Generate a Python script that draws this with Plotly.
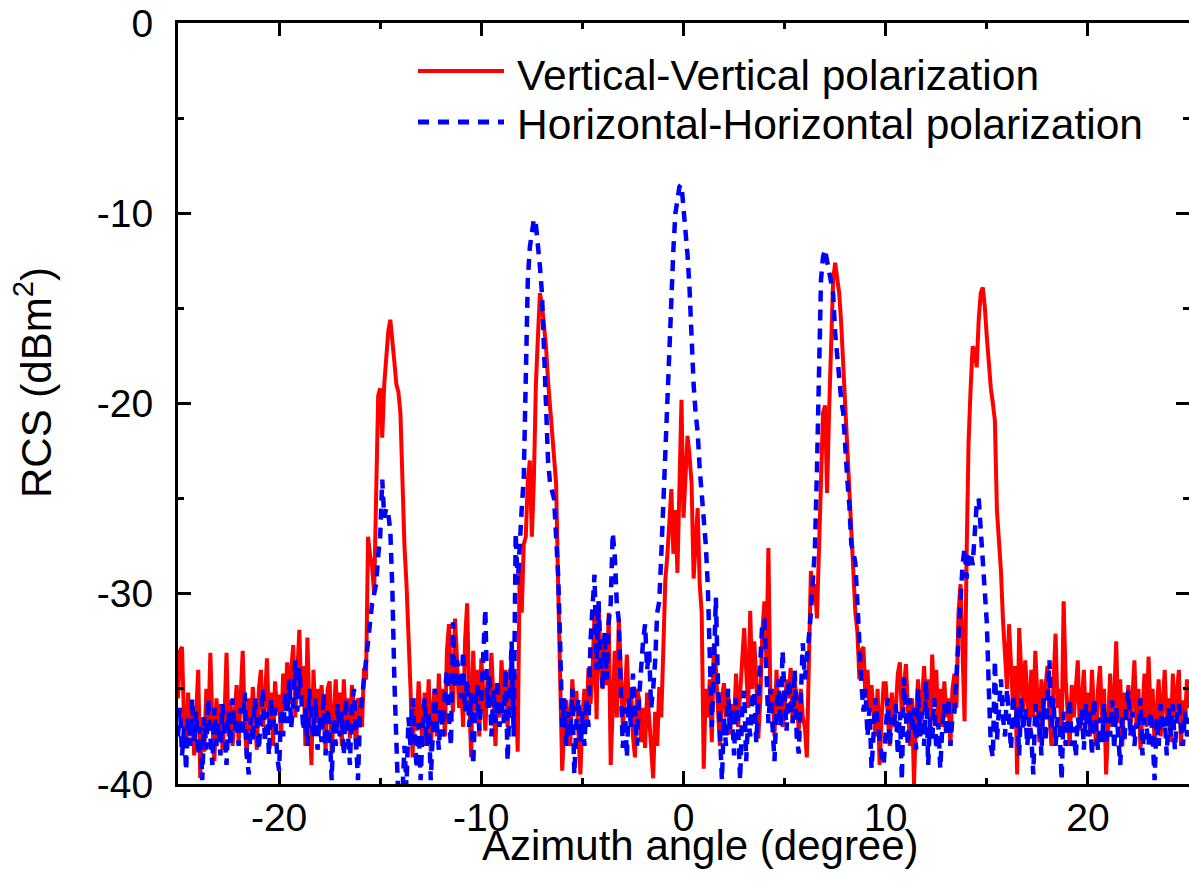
import numpy as np
import plotly.graph_objects as go

# Azimuth sampling grid (degree), 0.1 deg step from -25 to 25
angle_deg = np.round(np.arange(-250, 251) / 10.0, 1)

# Vertical-Vertical polarization RCS (dBm^2)
vv_rcs = [
    -35.5, -33.0, -32.8, -36.8, -38.0, -35.2, -37.5, -36.0, -38.5, -35.8,   # -25
    -34.0, -39.7, -36.5, -38.3, -35.0, -37.2, -33.1, -36.8, -38.8, -35.5,   # -24
    -37.0, -35.8, -38.2, -36.5, -33.1, -37.5, -35.6, -38.0, -36.2, -34.8,   # -23
    -37.8, -35.2, -33.0, -36.8, -38.6, -35.5, -37.2, -34.9, -36.5, -38.2,   # -22
    -35.0, -34.0, -37.0, -35.6, -33.4, -36.9, -35.2, -38.0, -34.6, -36.2,   # -21
    -35.3, -37.5, -34.2, -36.0, -33.6, -35.8, -34.0, -32.7, -36.5, -34.4,   # -20
    -31.9, -35.5, -33.8, -38.0, -32.3, -36.2, -39.0, -34.0, -36.8, -35.0,   # -19
    -37.2, -34.8, -36.5, -38.2, -35.0, -34.6, -38.4, -36.0, -34.5, -37.0,   # -18
    -35.2, -38.0, -34.5, -36.8, -35.5, -37.6, -34.8, -36.0, -38.2, -35.5,   # -17
    -35.8, -37.0, -33.9, -34.5, -27.0, -28.0, -28.6, -30.0, -25.0, -19.6,   # -16
    -19.2, -21.8, -19.0, -17.5, -16.2, -15.6, -16.5, -17.8, -19.0, -19.4,   # -15
    -20.5, -24.9, -27.5, -29.5, -32.1, -35.0, -38.6, -35.5, -37.2, -34.6,   # -14
    -36.5, -38.0, -35.2, -36.8, -34.5, -38.3, -36.0, -35.0, -37.5, -34.2,   # -13
    -36.8, -35.0, -37.5, -33.0, -31.6, -34.8, -36.2, -31.3, -33.5, -36.0,   # -12
    -34.5, -37.0, -32.4, -30.5, -35.5, -38.6, -33.0, -36.2, -34.0, -37.5,   # -11
    -33.4, -35.8, -37.2, -34.5, -36.0, -33.1, -35.5, -38.0, -34.8, -36.5,   # -10
    -33.5, -35.6, -34.0, -37.0, -35.2, -33.0, -36.5, -34.2, -38.3, -28.4,   # -9
    -31.0, -27.4, -27.0, -24.0, -23.0, -27.0, -24.0, -19.0, -16.5, -14.2,   # -8
    -14.8, -15.8, -17.0, -18.8, -20.3, -21.4, -22.8, -24.2, -29.5, -34.0,   # -7
    -39.3, -37.0, -35.6, -36.8, -38.0, -34.5, -36.2, -35.1, -37.5, -39.5,   # -6
    -36.5, -35.0, -37.0, -33.9, -35.8, -34.2, -31.0, -36.6, -30.4, -33.5,   # -5
    -35.0, -32.1, -34.8, -31.0, -39.0, -35.5, -33.0, -36.5, -31.3, -34.0,   # -4
    -37.0, -35.5, -33.2, -36.0, -34.9, -37.5, -38.6, -35.0, -35.5, -37.8,   # -3
    -36.0, -38.1, -35.2, -36.5, -37.8, -39.7, -36.2, -38.0, -34.9, -36.5,   # -2
    -33.0, -29.3, -28.0, -26.5, -24.5, -27.9, -25.6, -28.9, -23.0, -19.8,   # -1
    -26.0, -23.5, -21.7, -22.8, -24.2, -29.2, -27.0, -25.5, -29.5, -31.0,   # 0
    -39.2, -35.0, -36.5, -34.5, -37.8, -32.6, -33.9, -36.0, -38.0, -35.5,   # 1
    -34.7, -36.5, -35.0, -37.4, -35.8, -36.8, -34.2, -37.0, -35.5, -33.5,   # 2
    -31.8, -34.0, -36.0, -30.9, -35.0, -32.5, -34.5, -37.6, -35.5, -32.0,   # 3
    -30.4, -33.5, -27.6, -36.0, -35.0, -37.5, -34.0, -36.5, -35.2, -37.0,   # 4
    -36.2, -34.5, -35.5, -33.9, -36.8, -34.6, -35.6, -37.2, -35.0, -36.5,   # 5
    -37.0, -38.6, -33.0, -28.8, -30.0, -29.5, -31.3, -27.0, -23.0, -20.5,   # 6
    -20.1, -24.7, -20.5, -17.2, -13.5, -12.6, -13.4, -14.2, -15.8, -18.0,   # 7
    -19.8, -22.6, -25.0, -27.2, -29.0, -31.0, -32.0, -34.5, -33.0, -32.8,   # 8
    -35.5, -34.0, -36.2, -34.8, -36.2, -37.5, -35.0, -39.0, -36.5, -34.7,   # 9
    -34.7, -36.5, -38.0, -35.2, -37.0, -36.0, -34.2, -33.6, -36.5, -35.0,   # 10
    -33.7, -36.0, -38.0, -35.5, -40.0, -36.5, -34.5, -37.2, -35.8, -33.8,   # 11
    -36.2, -34.5, -37.5, -33.2, -35.8, -34.0, -36.8, -35.0, -37.0, -34.6,   # 12
    -36.5, -35.5, -38.0, -35.0, -34.2, -36.0, -31.0, -29.5, -33.0, -36.7,   # 13
    -28.0, -22.0, -19.2, -17.0, -17.2, -18.1, -15.6, -14.2, -13.9, -14.9,   # 14
    -16.5, -18.0, -19.2, -20.0, -20.9, -25.6, -27.0, -28.8, -31.4, -33.5,   # 15
    -35.0, -31.6, -34.5, -36.0, -33.8, -39.5, -31.8, -34.0, -36.2, -33.5,   # 16
    -35.5, -37.0, -34.0, -36.5, -33.0, -35.2, -37.8, -34.5, -36.0, -35.0,   # 17
    -33.8, -36.5, -38.0, -34.6, -32.1, -36.0, -35.0, -37.5, -30.4, -34.5,   # 18
    -36.2, -38.0, -34.8, -36.5, -35.0, -33.5, -37.2, -35.6, -34.0, -36.8,   # 19
    -35.2, -37.5, -34.0, -36.2, -38.0, -35.0, -33.8, -36.5, -35.0, -39.5,   # 20
    -36.0, -34.2, -37.0, -35.5, -32.5, -36.8, -34.5, -38.0, -35.2, -36.6,   # 21
    -34.8, -37.2, -35.5, -33.5, -36.8, -35.0, -38.2, -36.0, -34.2, -37.0,   # 22
    -33.3, -36.5, -35.0, -38.0, -36.2, -34.5, -37.5, -35.8, -34.0, -36.8,   # 23
    -35.5, -37.8, -34.2, -36.5, -35.0, -34.0, -38.0, -35.6, -36.8, -34.5,   # 24
    -36.0,                                                                  # 25
]

# Horizontal-Horizontal polarization RCS (dBm^2)
hh_rcs = [
    -37.5, -36.0, -38.5, -37.0, -39.3, -36.5, -38.0, -35.5, -37.8, -36.2,   # -25
    -38.5, -37.0, -39.8, -36.5, -38.2, -35.5, -37.5, -39.0, -36.0, -38.0,   # -24
    -36.8, -38.5, -35.8, -37.5, -39.0, -36.2, -38.0, -35.5, -37.2, -36.5,   # -23
    -38.0, -36.0, -37.5, -35.2, -38.5, -39.5, -36.5, -37.8, -35.5, -36.8,   # -22
    -38.2, -36.5, -35.0, -37.8, -36.2, -38.5, -35.5, -37.0, -36.0, -38.5,   # -21
    -39.3, -36.0, -37.5, -35.2, -36.8, -34.5, -37.0, -35.8, -33.5, -36.2,   # -20
    -33.9, -35.5, -37.2, -36.0, -38.0, -35.0, -36.8, -37.5, -35.5, -38.2,   # -19
    -36.5, -37.8, -35.2, -38.5, -36.0, -37.2, -39.8, -36.5, -38.0, -35.8,   # -18
    -37.5, -36.2, -38.5, -35.5, -37.0, -39.0, -36.0, -35.0, -37.5, -39.8,   # -17
    -36.5, -35.5, -34.0, -33.0, -32.0, -31.3, -30.5, -30.0, -29.5, -28.0,   # -16
    -27.0, -24.0, -26.0, -25.5, -25.8, -26.7, -29.7, -34.5, -39.0, -41.0,   # -15
    -41.5, -40.5, -38.0, -40.2, -36.5, -38.0, -35.5, -37.2, -39.2, -36.8,   # -14
    -39.8, -37.0, -35.5, -38.0, -36.2, -39.8, -37.5, -35.0, -36.8, -38.2,   # -13
    -36.0, -37.5, -35.2, -34.0, -36.5, -38.0, -31.5, -35.0, -33.5, -34.2,   # -12
    -35.5, -33.0, -36.2, -34.5, -37.0, -35.2, -39.0, -36.0, -34.8, -37.2,   # -11
    -35.5, -33.0, -30.8, -36.0, -34.2, -37.5, -35.0, -36.8, -34.5, -37.0,   # -10
    -35.5, -36.8, -34.0, -38.8, -35.2, -32.5, -37.5, -26.8, -29.5, -27.0,   # -9
    -25.5, -23.9, -18.0, -13.5, -11.8, -10.8, -10.3, -10.6, -11.5, -12.8,   # -8
    -14.2, -17.5, -21.0, -23.0, -24.2, -24.6, -25.0, -27.0, -29.0, -32.6,   # -7
    -37.0, -35.5, -38.0, -36.2, -37.5, -35.0, -39.5, -36.8, -35.5, -37.8,   # -6
    -36.2, -38.0, -35.5, -37.0, -32.5, -30.7, -29.0, -34.0, -30.4, -33.5,   # -5
    -35.0, -32.0, -34.5, -31.5, -30.5, -26.8, -28.0, -30.5, -31.4, -35.0,   # -4
    -38.1, -36.0, -38.6, -35.5, -37.0, -34.2, -36.5, -38.0, -35.5, -33.8,   # -3
    -32.5, -31.6, -34.0, -33.0, -36.0, -35.0, -33.5, -31.0, -30.4, -28.0,   # -2
    -25.1, -22.5, -20.2, -17.5, -14.0, -11.9, -10.0, -9.2, -8.6, -8.5,      # -1
    -9.7, -10.8, -12.2, -14.0, -16.8, -19.0, -20.5, -21.5, -23.4, -24.8,    # 0
    -25.6, -27.4, -29.5, -33.0, -37.0, -34.0, -30.2, -34.5, -37.5, -39.8,   # 1
    -36.5, -38.0, -35.0, -37.2, -36.0, -38.5, -35.5, -37.0, -39.8, -36.2,   # 2
    -35.1, -38.8, -36.5, -37.5, -35.5, -35.1, -37.8, -36.0, -33.5, -31.4,   # 3
    -31.4, -34.5, -36.8, -35.0, -37.5, -38.8, -36.0, -34.5, -37.0, -33.0,   # 4
    -35.5, -37.2, -34.5, -35.5, -36.8, -34.0, -37.5, -38.4, -35.2, -32.6,   # 5
    -34.5, -33.0, -32.3, -31.0, -29.5, -27.6, -23.5, -18.5, -13.5, -12.3,   # 6
    -11.9, -12.5, -13.0, -13.5, -14.2, -16.3, -17.5, -19.2, -19.8, -20.5,   # 7
    -22.6, -24.0, -25.3, -27.4, -27.8, -28.4, -30.5, -33.0, -34.7, -36.2,   # 8
    -35.0, -37.5, -36.0, -39.2, -37.0, -35.5, -36.8, -37.9, -38.5, -39.0,   # 9
    -37.2, -35.5, -38.0, -36.5, -37.0, -35.8, -38.5, -36.2, -39.8, -34.4,   # 10
    -36.5, -38.0, -35.5, -37.2, -36.0, -38.2, -35.0, -37.5, -36.2, -38.0,   # 11
    -34.6, -39.0, -36.5, -37.8, -35.5, -38.2, -36.8, -39.2, -37.0, -35.8,   # 12
    -37.5, -35.5, -38.0, -36.5, -36.2, -34.0, -31.8, -30.5, -28.5, -27.6,   # 13
    -29.2, -28.0, -27.8, -28.5, -27.2, -25.3, -25.0, -26.7, -27.6, -29.7,   # 14
    -31.5, -35.0, -38.0, -38.6, -33.5, -37.7, -35.5, -34.5, -36.5, -37.5,   # 15
    -35.0, -36.8, -38.2, -35.3, -37.0, -36.0, -38.5, -35.5, -37.2, -36.0,   # 16
    -38.0, -36.5, -37.5, -39.5, -35.8, -37.0, -36.2, -38.5, -35.5, -37.8,   # 17
    -36.0, -33.5, -37.2, -35.5, -38.0, -36.5, -37.0, -39.8, -36.2, -38.0,   # 18
    -36.8, -35.5, -38.0, -37.0, -38.6, -36.5, -37.2, -36.0, -38.2, -35.8,   # 19
    -37.5, -36.2, -38.5, -35.5, -37.0, -38.2, -36.5, -37.8, -35.8, -38.0,   # 20
    -36.5, -37.5, -35.6, -38.2, -36.0, -37.2, -39.0, -36.5, -37.8, -36.0,   # 21
    -35.1, -37.5, -36.2, -38.0, -36.8, -37.2, -35.5, -38.5, -36.5, -37.0,   # 22
    -38.0, -36.2, -37.5, -39.8, -36.5, -38.0, -35.8, -37.2, -36.5, -38.5,   # 23
    -36.0, -37.5, -35.8, -38.2, -36.5, -35.8, -37.0, -38.0, -36.2, -37.5,   # 24
    -36.5,                                                                  # 25
]

x_tick_vals = [-20, -10, 0, 10, 20]
x_tick_text = ["-20", "-10", "0", "10", "20"]
x_minor_vals = [-25, -15, -5, 5, 15, 25]
y_tick_vals = [-40, -30, -20, -10, 0]
y_tick_text = ["-40", "-30", "-20", "-10", "0"]
y_minor_vals = [-35, -25, -15, -5]

series_names = ["Vertical-Vertical polarization", "Horizontal-Horizontal polarization"]
x_title = "Azimuth angle (degree)"
y_title = "RCS (dBm<sup>2</sup>)"

FONT = "Liberation Sans, Arial, sans-serif"
W, H = 1189, 886
ML, MR, MT, MB = 178, 0, 23, 102

fig = go.Figure()
fig.add_trace(go.Scatter(x=angle_deg, y=vv_rcs, mode="lines", name=series_names[0],
                         line=dict(color="#ff0000", width=4), showlegend=False))
fig.add_trace(go.Scatter(x=angle_deg, y=hh_rcs, mode="lines", name=series_names[1],
                         line=dict(color="#0000ff", width=4.5, dash="11px,8px"), showlegend=False))
fig.add_trace(go.Scatter(x=[], y=[], yaxis="y2", showlegend=False, hoverinfo="skip"))

axis_common = dict(showgrid=False, zeroline=False, ticks="inside", ticklen=13, tickwidth=3,
                   tickcolor="black", linecolor="black", linewidth=3)

fig.update_layout(
    width=W, height=H,
    margin=dict(l=ML, r=MR, t=MT, b=MB, autoexpand=False),
    paper_bgcolor="white", plot_bgcolor="white",
    font=dict(family=FONT, color="black", size=39),
    xaxis=dict(range=[-25, 25], tickmode="array", tickvals=x_tick_vals, ticktext=x_tick_text,
               showline=True, mirror="ticks", tickfont=dict(size=39), ticklabelstandoff=-3,
               minor=dict(tickvals=x_minor_vals, ticks="inside", ticklen=6, tickwidth=3, tickcolor="black"),
               automargin=False, **axis_common),
    yaxis=dict(range=[-40, 0], tickmode="array", tickvals=y_tick_vals, ticktext=y_tick_text,
               showline=True, mirror=False, tickfont=dict(size=39), ticklabelstandoff=14,
               minor=dict(tickvals=y_minor_vals, ticks="inside", ticklen=6, tickwidth=3, tickcolor="black"),
               automargin=False, **axis_common),
    yaxis2=dict(range=[-40, 0], overlaying="y", side="right", tickmode="array", tickvals=y_tick_vals,
                showticklabels=False, showline=False,
                minor=dict(tickvals=y_minor_vals, ticks="inside", ticklen=6, tickwidth=3, tickcolor="black"),
                showgrid=False, zeroline=False, ticks="inside", ticklen=13, tickwidth=3, tickcolor="black"),
)

PW = W - ML - MR
PH = H - MT - MB
def px_to_paper_x(px):
    return (px - ML) / PW
def py_to_paper_y(py):
    return (H - MB - py) / PH

# Axis titles
fig.add_annotation(xref="paper", yref="paper", x=px_to_paper_x(700), y=py_to_paper_y(846),
                   text=x_title, showarrow=False, xanchor="center", yanchor="middle",
                   font=dict(size=42, family=FONT, color="black"))
fig.add_annotation(xref="paper", yref="paper", x=px_to_paper_x(33), y=py_to_paper_y(383),
                   text=y_title, showarrow=False, xanchor="center", yanchor="middle", textangle=-90,
                   font=dict(size=42, family=FONT, color="black"))

# Manual legend (long line samples as in the reference)
legend_rows = [
    dict(name=series_names[0], color="#ff0000", dash="solid", width=4, y_line=71, y_text=75),
    dict(name=series_names[1], color="#0000ff", dash="11px,9px", width=5, y_line=122, y_text=124),
]
for row in legend_rows:
    fig.add_shape(type="line", xref="paper", yref="paper",
                  x0=px_to_paper_x(418), x1=px_to_paper_x(504),
                  y0=py_to_paper_y(row["y_line"]), y1=py_to_paper_y(row["y_line"]),
                  line=dict(color=row["color"], width=row["width"], dash=row["dash"]))
    fig.add_annotation(xref="paper", yref="paper", x=px_to_paper_x(515), y=py_to_paper_y(row["y_text"]),
                       text=row["name"], showarrow=False, xanchor="left", yanchor="middle",
                       font=dict(size=42.5, family=FONT, color="black"))

fig.write_html("out.html", config={"displayModeBar": False},
               post_script="document.body.style.margin='0px';document.body.style.overflow='hidden';")
